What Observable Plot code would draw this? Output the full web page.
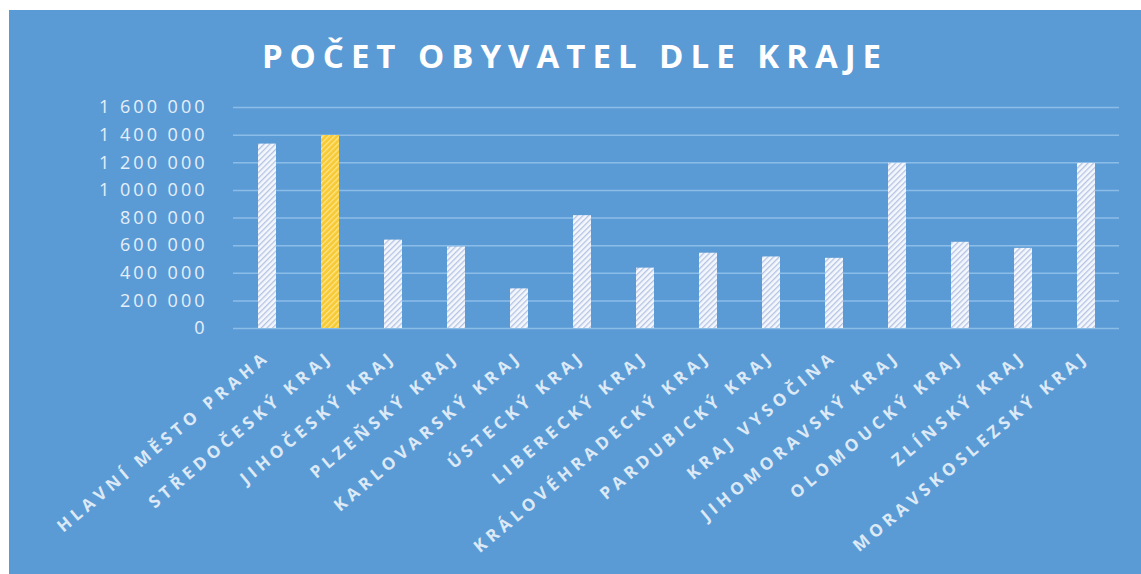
<!DOCTYPE html>
<html>
<head>
<meta charset="utf-8">
<script src="https://cdn.jsdelivr.net/npm/d3@7"></script>
<script src="https://cdn.jsdelivr.net/npm/@observablehq/plot@0.6"></script>
<style>
  html, body { margin: 0; padding: 0; background: #ffffff; }
  #wrap { position: relative; width: 1141px; height: 574px; overflow: hidden; }
  #panel { position: absolute; left: 9px; top: 10px; right: 0; bottom: 0; background: #5B9BD5; }
  #title { position: absolute; left: 9px; width: 1132px; top: 33px; text-align: center;
           font-family: "Open Sans", sans-serif; font-weight: 700; font-size: 33px;
           letter-spacing: 7px; color: #ffffff; }
  #chart { position: absolute; left: 0; top: 0; }
  #chart svg { background: transparent; overflow: visible; }
</style>
</head>
<body>
<div id="wrap">
  <div id="panel"></div>
  <div id="title">POČET OBYVATEL DLE KRAJE</div>
  <div id="chart"></div>
</div>
<script>
const kraje = [
  "Hlavní město Praha", "Středočeský kraj", "Jihočeský kraj", "Plzeňský kraj",
  "Karlovarský kraj", "Ústecký kraj", "Liberecký kraj", "Královéhradecký kraj",
  "Pardubický kraj", "Kraj Vysočina", "Jihomoravský kraj", "Olomoucký kraj",
  "Zlínský kraj", "Moravskoslezský kraj"
];
const obyvatel = [
  1335000, 1397000, 640000, 590000,
  287000, 817000, 437000, 545000,
  518000, 508000, 1196000, 624000,
  580000, 1195000
];
const highlighted = ["Středočeský kraj"];
const yTicks = [0, 200000, 400000, 600000, 800000, 1000000, 1200000, 1400000, 1600000];

const data = kraje.map((k, i) => ({kraj: k, pocet: obyvatel[i]}));
const fmt = d => d3.format(",")(d).replace(/,/g, " ");

const plot = Plot.plot({
  width: 1141,
  height: 574,
  marginLeft: 233,
  marginRight: 22,
  marginTop: 107,
  marginBottom: 246,
  style: {background: "transparent", overflow: "visible"},
  x: {domain: kraje, paddingInner: 0.72, paddingOuter: 0.38, label: null},
  y: {domain: [0, 1600000], label: null},
  marks: [
    Plot.gridY(yTicks, {stroke: "#8CBDE8", strokeOpacity: 1, strokeWidth: 1.5}),
    Plot.barY(data.filter(d => !highlighted.includes(d.kraj)), {x: "kraj", y: "pocet", fill: "url(#hatchW)"}),
    Plot.barY(data.filter(d => highlighted.includes(d.kraj)), {x: "kraj", y: "pocet", fill: "url(#hatchY)"}),
    Plot.axisY(yTicks, {tickSize: 0, tickPadding: 26, tickFormat: fmt, fill: "#E6EFF9",
      fontSize: 18, fontFamily: "Open Sans, sans-serif", label: null}),
    Plot.axisX({tickSize: 0, tickPadding: 26, tickRotate: -40, tickFormat: d => d.toUpperCase(),
      fill: "#DCE9F6", fontSize: 17, fontWeight: 700, fontFamily: "Open Sans, sans-serif", label: null})
  ]
});

const svg = d3.select(plot);
const defs = svg.insert("defs", ":first-child");
function hatch(id, bg, line) {
  const p = defs.append("pattern").attr("id", id).attr("patternUnits", "userSpaceOnUse")
    .attr("width", 4).attr("height", 4).attr("patternTransform", "rotate(45)");
  p.append("rect").attr("width", 4).attr("height", 4).attr("fill", bg);
  p.append("rect").attr("width", 1.3).attr("height", 4).attr("fill", line);
}
hatch("hatchW", "#F4F7FC", "#B4C3E4");
hatch("hatchY", "#F7C934", "#FFE68A");

// letter spacing and size like the original
svg.selectAll("[aria-label='y-axis tick label'] text").style("letter-spacing", "3px");
svg.selectAll("[aria-label='x-axis tick label']").style("font-size", "17px");
svg.selectAll("[aria-label='x-axis tick label'] text")
  .style("letter-spacing", "4.5px").style("font-size", "17px").style("font-weight", "700");

document.getElementById("chart").appendChild(plot);
</script>
</body>
</html>
